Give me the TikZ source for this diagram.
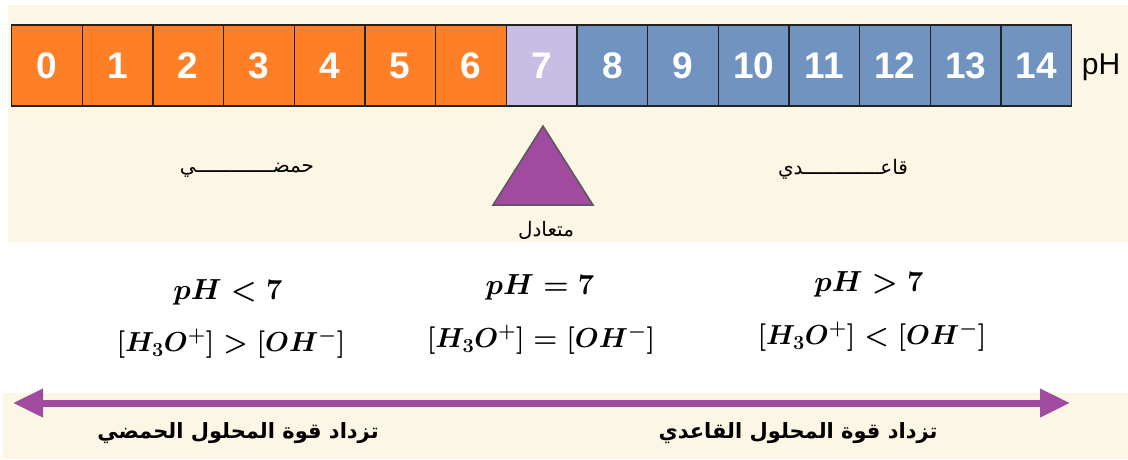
\RequirePackage{fix-cm}
\documentclass[tikz,border=0pt]{standalone}
\usepackage{fontspec}
\usetikzlibrary{arrows.meta}
\TeXXeTstate=1
\newfontfamily\arabicfont[Script=Arabic]{DejaVu Sans}
\newfontfamily\digitfont{Liberation Sans}
\definecolor{cream}{HTML}{FCF6E4}
\definecolor{acid}{HTML}{FF7F27}
\definecolor{neutral}{HTML}{C8BEE4}
\definecolor{basic}{HTML}{7093BF}
\definecolor{violet}{HTML}{A04AA0}
\definecolor{cellline}{HTML}{222222}
\DeclareMathSizes{29}{29}{21}{16}
\DeclareMathSizes{27.5}{27.5}{20}{15}
\tikzset{
  cellbox/.style={draw=cellline, line width=1.2pt, minimum width=70.67pt, minimum height=81pt, inner sep=0pt, anchor=west,
    font=\digitfont\bfseries\fontsize{37}{40}\selectfont, text=white},
  phlabel/.style={font=\digitfont\fontsize{30}{34}\selectfont, text=black},
  arlabel/.style={font=\arabicfont\fontsize{20}{24}\selectfont, text=black},
  arbold/.style={font=\arabicfont\bfseries\fontsize{21}{24}\selectfont, text=black},
  mathtop/.style={font=\fontsize{29}{34}\selectfont\boldmath, text=black},
  mathlabel/.style={font=\fontsize{27.5}{32}\selectfont\boldmath, text=black},
  scalearrow/.style={draw=violet, line width=7pt, {Triangle[length=30pt,width=27pt]}-{Triangle[length=30pt,width=27pt]}},
  neutraltri/.style={fill=violet, draw=black!65, line width=1.5pt, line join=miter}
}
\begin{document}
\begin{tikzpicture}[x=1pt,y=-1pt]
\useasboundingbox (0,0) rectangle (1128,459);
\fill[white] (0,0) rectangle (1128,459);
\fill[cream] (8,5) rectangle (1128,242);
\fill[cream] (3,393) rectangle (1128,459);
% scale cells
\foreach \i in {0,...,14} {
  \pgfmathsetmacro{\xx}{11+70.67*\i}
  \ifnum\i<7 \def\cc{acid}\else\ifnum\i=7 \def\cc{neutral}\else\def\cc{basic}\fi\fi
  \node[cellbox, fill=\cc] (c\i) at (\xx,65.5) {\i};
}
\node[phlabel] (ph) at (1101,67) {pH};
% neutral marker
\draw[neutraltri] (543,126) -- (593,205) -- (493,205) -- cycle;
\node[arlabel] (acidlbl) at (247,170) {\beginR حمضـــــــــــــي\endR};
\node[arlabel] (baselbl) at (843,169) {\beginR قاعـــــــــــــدي\endR};
\node[arlabel] (neutlbl) at (546,230) {\beginR متعادل\endR};
% conditions
\node[mathtop] (m1a) at (228,292) {$pH<7$};
\node[mathlabel] (m1b) at (231,344) {$[H_3O^+]>[OH^-]$};
\node[mathtop] (m2a) at (540,287) {$pH=7$};
\node[mathlabel] (m2b) at (541,340) {$[H_3O^+]=[OH^-]$};
\node[mathtop] (m3a) at (869,284) {$pH>7$};
\node[mathlabel] (m3b) at (872,337) {$[H_3O^+]<[OH^-]$};
% arrow
\coordinate (aL) at (13,403);
\coordinate (aR) at (1070,403);
\draw[scalearrow] (aL) -- (aR);
\node[arbold] (acidstr) at (238,433) {\beginR تزداد قوة المحلول الحمضي\endR};
\node[arbold] (basestr) at (798,433) {\beginR تزداد قوة المحلول القاعدي\endR};
\end{tikzpicture}
\end{document}
